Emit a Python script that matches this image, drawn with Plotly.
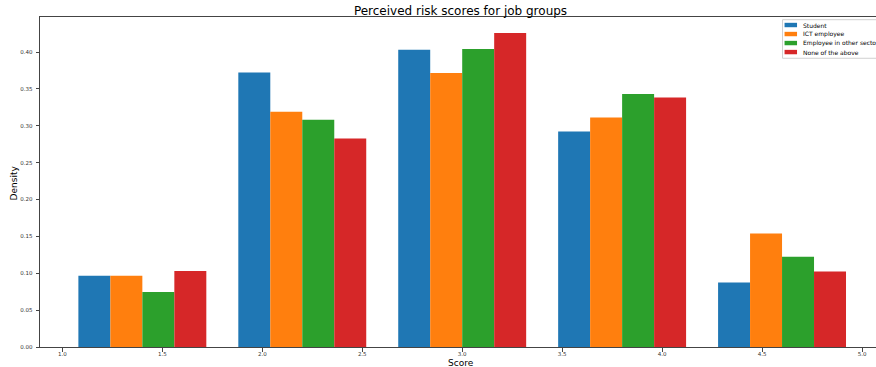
import plotly.graph_objects as go

bin_edges = [1.0, 1.8, 2.6, 3.4, 4.2, 5.0]
series_names = ["Student", "ICT employee", "Employee in other sector", "None of the above"]
student = [0.0965, 0.3723, 0.4030, 0.2921, 0.0875]
ict_employee = [0.0965, 0.3190, 0.3715, 0.3111, 0.1540]
other_sector = [0.0747, 0.3080, 0.4040, 0.3430, 0.1223]
none_above = [0.1029, 0.2826, 0.4258, 0.3383, 0.1024]
colors = ["#1f77b4", "#ff7f0e", "#2ca02c", "#d62728"]
x_ticks = [1.0, 1.5, 2.0, 2.5, 3.0, 3.5, 4.0, 4.5, 5.0]

bin_centers = [(a + b) / 2 for a, b in zip(bin_edges[:-1], bin_edges[1:])]

W, H = 876, 367
PLOT_L, PLOT_R, PLOT_T, PLOT_B = 39.6, 876, 17.3, 346.7
ML, MT, MR, MB = PLOT_L, PLOT_T, W - PLOT_R, H - PLOT_B
PW = PLOT_R - PLOT_L
PH = PLOT_B - PLOT_T


def px_x(px):
    return (px - PLOT_L) / PW


def px_y(py):
    return (PLOT_B - py) / PH


fig = go.Figure()
for name, vals, c in zip(series_names, [student, ict_employee, other_sector, none_above], colors):
    fig.add_trace(go.Bar(x=bin_centers, y=vals, name=name, showlegend=False,
                         marker=dict(color=c, line=dict(width=0))))

FONT = "DejaVu Sans"

shapes = [dict(type="rect", xref="paper", yref="paper",
               x0=px_x(782.5), x1=px_x(900), y0=px_y(58.5), y1=px_y(20),
               line=dict(color="#d0d0d0", width=1), fillcolor="rgba(255,255,255,0.9)", layer="above")]
annotations = []
for i, (name, c) in enumerate(zip(series_names, colors)):
    yc = 25.3 + i * 9.0
    shapes.append(dict(type="rect", xref="paper", yref="paper",
                       x0=px_x(784.5), x1=px_x(797), y0=px_y(yc + 2.2), y1=px_y(yc - 2.2),
                       line=dict(width=0), fillcolor=c, layer="above"))
    annotations.append(dict(text=name, xref="paper", yref="paper", x=px_x(801), y=px_y(yc),
                            xanchor="left", yanchor="middle", showarrow=False,
                            font=dict(family=FONT, size=6, color="black")))

annotations.append(dict(text="Score", xref="paper", yref="paper", x=px_x(461), y=px_y(362.5),
                        xanchor="center", yanchor="middle", showarrow=False,
                        font=dict(family=FONT, size=9, color="black")))
annotations.append(dict(text="Density", xref="paper", yref="paper", x=px_x(14), y=px_y(183),
                        xanchor="center", yanchor="middle", showarrow=False, textangle=-90,
                        font=dict(family=FONT, size=9, color="black")))

fig.update_layout(
    width=W, height=H,
    margin=dict(l=ML, r=MR, t=MT, b=MB, autoexpand=False, pad=0),
    paper_bgcolor="white", plot_bgcolor="white",
    barmode="group", bargap=0.2, bargroupgap=0,
    font=dict(family=FONT, color="#333"),
    title=dict(text="Perceived risk scores for job groups", x=460.5 / W, xanchor="center",
               yref="container", y=1 - 10.5 / H, yanchor="middle",
               font=dict(family=FONT, size=12, color="black")),
    showlegend=False,
    shapes=shapes,
    annotations=annotations,
)
fig.update_xaxes(
    range=[0.888, 0.888 + PW / 200.0], tickvals=x_ticks, tickformat=".1f",
    showgrid=False, zeroline=False,
    showline=True, linecolor="#444", linewidth=1, mirror=True,
    ticks="outside", ticklen=3.5, tickwidth=1, tickcolor="#444",
    tickfont=dict(family=FONT, size=5.5, color="#333"),
    ticklabelstandoff=-2,
    automargin=False,
)
fig.update_yaxes(
    range=[0, 0.4475], dtick=0.05, tick0=0, tickformat=".2f",
    showgrid=False, zeroline=False,
    showline=True, linecolor="#444", linewidth=1,
    ticks="outside", ticklen=3.5, tickwidth=1, tickcolor="#444",
    tickfont=dict(family=FONT, size=5.5, color="#333"),
    ticklabelstandoff=2,
    automargin=False,
)
# remove the browser's default 8px body margin so the figure fills the window exactly
fig.write_html("out.html", config={"displayModeBar": False},
               post_script="document.body.style.margin='0';document.body.style.overflow='hidden';")
